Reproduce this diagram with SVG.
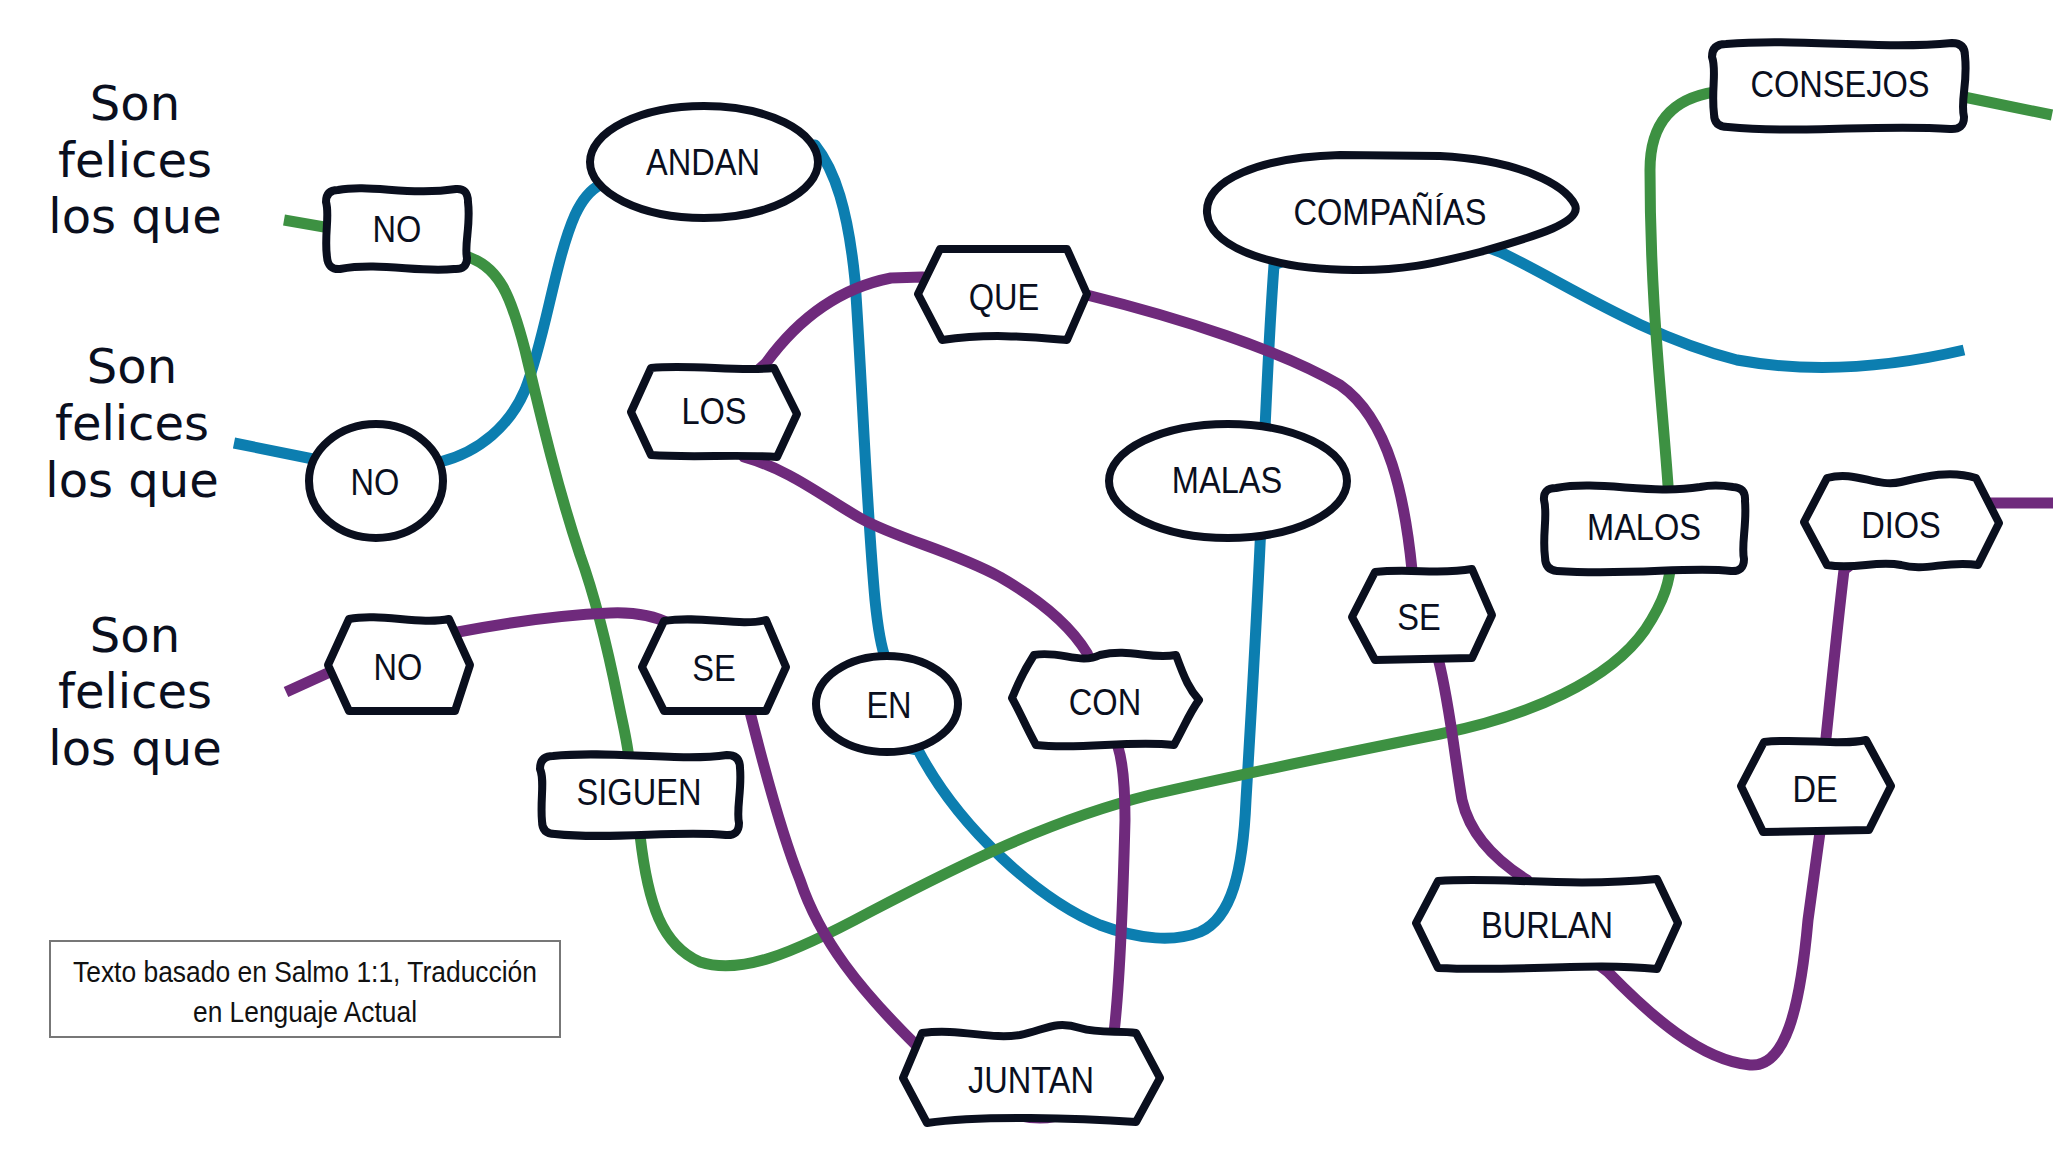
<svg xmlns="http://www.w3.org/2000/svg" width="2072" height="1168" viewBox="0 0 2072 1168">
<style>
.bg{fill:#ffffff}
.c{fill:none;stroke-width:11;stroke-linecap:butt;stroke-linejoin:round}
.g{stroke:#3d9142}
.b{stroke:#0c7eb0}
.p{stroke:#6f2a7c}
.n{fill:#ffffff;stroke:#0a0f1e;stroke-width:8;stroke-linejoin:round}
.t{font-family:"Liberation Sans",Arial,sans-serif;font-size:37px;fill:#0a0f1e;text-anchor:middle}
.h{font-family:"DejaVu Sans",sans-serif;font-size:48px;fill:#0a0f1e;text-anchor:middle}
.f{font-family:"Liberation Sans",Arial,sans-serif;font-size:30px;fill:#111;text-anchor:middle}
</style>
<rect class="bg" x="0" y="0" width="2072" height="1168"/>
<g id="intro">
<text class="h" x="135" y="120">Son</text>
<text class="h" x="135" y="177">felices</text>
<text class="h" x="135" y="233">los que</text>
<text class="h" x="132" y="383">Son</text>
<text class="h" x="132" y="440">felices</text>
<text class="h" x="132" y="497">los que</text>
<text class="h" x="135" y="652">Son</text>
<text class="h" x="135" y="708">felices</text>
<text class="h" x="135" y="765">los que</text>
</g>
<g id="connectors">
<path class="c b" d="M 234,443 L 318,460 L 440,462 C 480,452 510,425 525,390 C 545,340 555,260 575,215 C 582,200 590,190 600,185 L 704,162 L 815,145 C 835,170 848,210 855,280 C 862,380 866,500 875,600 C 878,630 882,650 886,660 L 890,745 L 918,750 C 960,830 1040,900 1100,925 C 1140,940 1175,942 1200,932 C 1232,918 1243,870 1246,800 C 1252,700 1258,600 1262,500 C 1266,400 1270,320 1274,265 L 1400,215 L 1500,252 C 1560,280 1640,335 1737,360 C 1820,375 1900,365 1964,350"/>
<path class="c g" d="M 284,220 L 330,228 L 460,255 C 500,262 512,300 525,350 C 537,400 555,480 580,555 C 598,605 610,660 618,700 C 624,730 628,745 629,760 L 640,835 C 648,905 662,945 700,962 C 740,975 790,955 870,912 C 960,865 1050,820 1150,795 C 1250,772 1350,752 1440,734 C 1530,716 1610,680 1645,630 C 1665,600 1670,580 1671,560 L 1668,485 C 1662,400 1650,300 1650,170 C 1650,120 1675,98 1715,92 L 1964,97 L 2052,115"/>
<path class="c p" d="M 286,692 L 330,672 L 398,665 L 458,632 C 500,624 560,615 610,613 C 635,612 655,616 670,624 L 713,665 L 750,712 C 762,760 780,830 800,880 C 820,940 860,990 918,1047 C 960,1095 1000,1118 1040,1118 C 1080,1118 1110,1080 1114,1033 C 1120,980 1123,900 1125,820 C 1125,780 1122,760 1118,747 L 1105,700 L 1087,653 C 1070,625 1040,600 1000,577 C 950,550 900,540 860,518 C 820,495 790,470 744,457 L 714,410 L 766,363 C 790,330 830,290 891,278 L 922,277 L 1002,294 L 1087,295 C 1180,318 1280,350 1340,385 C 1390,420 1405,500 1412,570 L 1423,614 L 1438,658 C 1450,705 1455,760 1462,800 C 1470,835 1495,860 1527,880 L 1547,925 L 1608,972 C 1650,1015 1700,1060 1750,1065 C 1785,1068 1800,1010 1808,920 L 1820,832 L 1816,786 L 1826,738 C 1832,680 1838,620 1844,570 L 1905,523 L 1991,503 L 2053,503"/>
</g>
<g id="node-no1">
<path class="n" d="M 338,190 C 370,184 410,196 456,189 Q 468,188 468,202 C 471,225 464,245 467,258 Q 467,270 454,269 C 420,273 380,262 340,269 Q 328,270 327,257 C 324,235 330,215 326,202 Q 326,190 338,190 Z"/>
<text class="t" transform="translate(397,242) scale(0.88,1)">NO</text>
</g>
<g id="node-no2">
<ellipse class="n" cx="376" cy="481" rx="67" ry="57"/>
<text class="t" transform="translate(375,495) scale(0.88,1)">NO</text>
</g>
<g id="node-no3">
<path class="n" d="M 328,665 L 349,619 C 380,613 420,625 449,619 L 470,665 L 455,711 L 349,711 Z"/>
<text class="t" transform="translate(398,680) scale(0.88,1)">NO</text>
</g>
<g id="node-andan">
<ellipse class="n" cx="704" cy="162" rx="114" ry="56"/>
<text class="t" transform="translate(703,175) scale(0.88,1)">ANDAN</text>
</g>
<g id="node-que">
<path class="n" d="M 918,294 L 940,249 L 1067,249 L 1087,294 L 1067,340 C 1030,337 990,333 942,340 Z"/>
<text class="t" transform="translate(1004,310) scale(0.88,1)">QUE</text>
</g>
<g id="node-companias">
<path class="n" d="M 1207,213 C 1205,180 1260,157 1340,155 L 1440,156 C 1520,160 1565,185 1575,205 C 1582,222 1540,235 1480,252 C 1430,265 1400,270 1360,270 C 1280,271 1210,250 1207,213 Z"/>
<text class="t" transform="translate(1390,225) scale(0.88,1)">COMPAÑÍAS</text>
</g>
<g id="node-consejos">
<path class="n" d="M 1726,44 C 1800,38 1880,50 1952,43 Q 1965,43 1965,56 C 1968,85 1960,100 1964,117 Q 1964,130 1950,129 C 1880,124 1800,134 1728,127 Q 1714,127 1714,114 C 1711,90 1717,70 1712,57 Q 1712,44 1726,44 Z"/>
<text class="t" transform="translate(1840,97) scale(0.88,1)">CONSEJOS</text>
</g>
<g id="node-los">
<path class="n" d="M 631,412 L 651,368 C 690,364 740,372 774,368 L 797,414 L 777,457 C 740,454 690,458 651,455 Z"/>
<text class="t" transform="translate(714,424) scale(0.88,1)">LOS</text>
</g>
<g id="node-malas">
<ellipse class="n" cx="1228" cy="481" rx="119" ry="57"/>
<text class="t" transform="translate(1227,493) scale(0.88,1)">MALAS</text>
</g>
<g id="node-se1">
<path class="n" d="M 642,667 L 664,621 C 700,615 740,627 766,620 L 786,667 L 766,711 L 664,711 Z"/>
<text class="t" transform="translate(714,681) scale(0.88,1)">SE</text>
</g>
<g id="node-en">
<ellipse class="n" cx="887" cy="704" rx="71" ry="48"/>
<text class="t" transform="translate(889,718) scale(0.88,1)">EN</text>
</g>
<g id="node-con">
<path class="n" d="M 1012,698 C 1016,690 1018,680 1034,655 C 1060,650 1080,665 1100,655 C 1130,648 1150,660 1176,655 C 1185,680 1190,690 1199,700 C 1190,712 1185,725 1174,745 C 1130,740 1080,750 1036,745 C 1025,725 1020,712 1012,698 Z"/>
<text class="t" transform="translate(1105,715) scale(0.88,1)">CON</text>
</g>
<g id="node-siguen">
<path class="n" d="M 553,756 C 610,750 680,762 727,755 Q 740,755 740,768 C 742,790 736,810 739,823 Q 739,836 726,835 C 680,830 610,840 555,834 Q 542,834 542,821 C 540,800 545,780 540,769 Q 540,756 553,756 Z"/>
<text class="t" transform="translate(639,805) scale(0.88,1)">SIGUEN</text>
</g>
<g id="node-juntan">
<path class="n" d="M 903,1078 L 922,1033 C 960,1028 990,1040 1020,1035 C 1045,1030 1055,1020 1080,1028 C 1100,1034 1120,1030 1136,1033 L 1160,1078 L 1136,1122 C 1080,1118 980,1115 927,1123 Z"/>
<text class="t" transform="translate(1031,1093) scale(0.88,1)">JUNTAN</text>
</g>
<g id="node-se2">
<path class="n" d="M 1352,617 L 1375,572 C 1410,568 1440,575 1472,569 L 1492,615 L 1472,658 L 1375,660 Z"/>
<text class="t" transform="translate(1419,630) scale(0.88,1)">SE</text>
</g>
<g id="node-malos">
<path class="n" d="M 1556,488 C 1600,480 1650,495 1700,487 Q 1715,484 1733,487 Q 1746,488 1745,501 C 1747,525 1741,545 1744,559 Q 1744,572 1731,571 C 1690,566 1630,576 1557,571 Q 1545,570 1545,557 C 1542,535 1548,515 1544,500 Q 1543,488 1556,488 Z"/>
<text class="t" transform="translate(1644,540) scale(0.88,1)">MALOS</text>
</g>
<g id="node-dios">
<path class="n" d="M 1804,522 L 1827,478 C 1856,470 1876,488 1901,482 C 1926,476 1951,470 1976,478 L 1999,523 L 1978,565 C 1946,560 1926,572 1901,565 C 1876,560 1856,570 1827,565 Z"/>
<text class="t" transform="translate(1901,538) scale(0.88,1)">DIOS</text>
</g>
<g id="node-de">
<path class="n" d="M 1741,786 L 1764,742 C 1800,738 1840,746 1866,740 L 1891,786 L 1869,830 L 1763,832 Z"/>
<text class="t" transform="translate(1815,802) scale(0.88,1)">DE</text>
</g>
<g id="node-burlan">
<path class="n" d="M 1416,923 L 1438,881 C 1500,876 1560,888 1657,879 L 1678,923 L 1657,969 C 1590,962 1520,972 1438,968 Z"/>
<text class="t" transform="translate(1547,938) scale(0.88,1)">BURLAN</text>
</g>
<g id="footnote">
<rect x="50" y="941" width="510" height="96" fill="#ffffff" stroke="#777777" stroke-width="2"/>
<text class="f" x="305" y="982" textLength="464" lengthAdjust="spacingAndGlyphs">Texto basado en Salmo 1:1, Traducción</text>
<text class="f" x="305" y="1022" textLength="224" lengthAdjust="spacingAndGlyphs">en Lenguaje Actual</text>
</g>
</svg>
